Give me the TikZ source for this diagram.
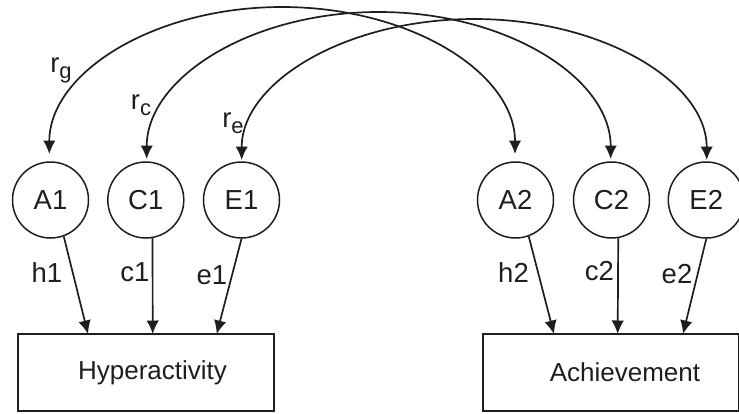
\documentclass[tikz,border=0pt]{standalone}
\usepackage{fontspec}
\setmainfont{Liberation Sans}
\usetikzlibrary{arrows.meta}
\definecolor{ink}{RGB}{30,30,30}
\newcommand{\mysubs}[1]{\raisebox{-6pt}{\fontsize{22}{24}\selectfont #1}}
\begin{document}
\begin{tikzpicture}[x=1pt,y=-1pt,
  every node/.style={font=\fontsize{27.5}{32}\selectfont, text=ink},
  lat/.style={draw=ink, circle, line width=1.5pt, minimum size=76pt, inner sep=0pt},
  obs/.style={draw=ink, rectangle, line width=1.6pt, minimum width=256pt, minimum height=77pt, inner sep=0pt},
  load/.style={draw=ink, line width=1.7pt, -{Latex[length=13.5pt,width=12.5pt]}},
  covar/.style={draw=ink, line width=1.7pt, {Latex[length=13.5pt,width=12.5pt]}-{Latex[length=13.5pt,width=12.5pt]}},
  lab/.style={inner sep=0pt},
  boxtext/.style={inner sep=0pt, font=\fontsize{26}{30}\selectfont}
]
\useasboundingbox (0,0) rectangle (739,413);
% latent factors
\node[lat] (A1) at (50.5,200) {A1};
\node[lat] (C1) at (145.8,200) {C1};
\node[lat] (E1) at (241.5,200) {E1};
\node[lat] (A2) at (515.5,200) {A2};
\node[lat] (C2) at (611.5,200) {C2};
\node[lat] (E2) at (706.3,200) {E2};
% observed variables
\node[obs] (hyp) at (146,372.5) {};
\node[boxtext] (hyptext) at (152.5,372.5) {Hyperactivity};
\node[obs] (ach) at (611,372.5) {};
\node[boxtext] (achtext) at (625,372.5) {Achievement};
% arrow tips on boxes
\coordinate (hA) at (88,334);
\coordinate (hC) at (152.7,334);
\coordinate (hE) at (216.7,334);
\coordinate (aA) at (554,334);
\coordinate (aC) at (617.7,334);
\coordinate (aE) at (683,334);
\draw[load] (A1.-70) -- (hA);
\draw[load] (C1.-80) -- (hC);
\draw[load] (E1.-90) -- (hE);
\draw[load] (A2.-70) -- (aA);
\draw[load] (C2.-80) -- (aC);
\draw[load] (E2.-90) -- (aE);
% path labels
\node[lab] (lh1) at (47,273) {h1};
\node[lab] (lc1) at (135,272) {c1};
\node[lab] (le1) at (212,275) {e1};
\node[lab] (lh2) at (513.5,273) {h2};
\node[lab] (lc2) at (599.5,271) {c2};
\node[lab] (le2) at (677,274) {e2};
% covariance arcs
\coordinate (tA1) at (49.3,154);
\coordinate (tA2) at (515,154);
\coordinate (pg) at (282,7);
\coordinate (tC1) at (146.7,159);
\coordinate (tC2) at (610.7,159);
\coordinate (pc) at (378.7,12);
\coordinate (tE1) at (241.7,160);
\coordinate (tE2) at (706.7,160);
\coordinate (pe) at (474.2,19);
\draw[covar] (tA1) .. controls +(0,-81) and +(-128.6,0) .. (pg) .. controls +(128.6,0) and +(0,-81) .. (tA2);
\draw[covar] (tC1) .. controls +(0,-81) and +(-128,0) .. (pc) .. controls +(128,0) and +(0,-81) .. (tC2);
\draw[covar] (tE1) .. controls +(0,-77.8) and +(-128.3,0) .. (pe) .. controls +(128.3,0) and +(0,-77.8) .. (tE2);
% covariance labels
\node[lab] (lrg) at (61,70) {r\mysubs{g}};
\node[lab] (lrc) at (141,105) {r\mysubs{c}};
\node[lab] (lre) at (233,123) {r\mysubs{e}};
\end{tikzpicture}
\end{document}
